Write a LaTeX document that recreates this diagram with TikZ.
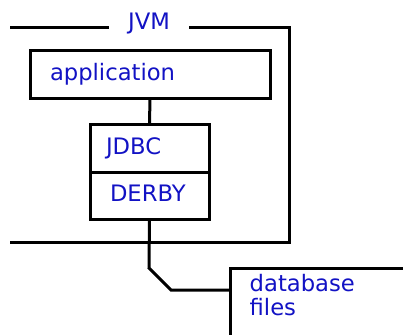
\documentclass[tikz,border=0pt]{standalone}
\usepackage{fontspec}
\setmainfont{DejaVu Sans}
\definecolor{textblue}{RGB}{18,18,196}
\tikzset{
    frame/.style={line width=2.25pt},
    box/.style={draw, line width=2.25pt, outer sep=0pt, inner ysep=0pt, align=left},
    lbl/.style={text=textblue, font=\fontsize{17}{18}\selectfont},
}
\begin{document}
\begin{tikzpicture}[x=0.75pt, y=-0.75pt]
    \useasboundingbox (0,0) rectangle (403,335);

    % JVM frame, open on the left
    \draw[frame] (10,28) -- (289,28) -- (289,242) -- (10,242);
    \node[lbl, fill=white, inner xsep=14pt, inner ysep=2pt] (jvm) at (149,24) {JVM};

    % application
    \node[box, lbl, minimum width=180pt, minimum height=35.25pt, inner xsep=15pt, text width=150pt] (app) at (150,74.5) {application};

    % JDBC / DERBY stack
    \node[box, lbl, minimum width=89.25pt, minimum height=36pt, inner xsep=12pt, text width=65.25pt] (jdbc) at (149.5,148) {\raisebox{3pt}{JDBC}};
    \node[box, lbl, minimum width=89.25pt, minimum height=35.25pt, inner xsep=15pt, text width=59.25pt, anchor=north] (derby) at (jdbc.south) {\raisebox{3pt}{DERBY}};

    \draw[frame] (app.south) -- (jdbc.north);

    % database files, only top and left edges
    \draw[frame] (230,345) -- (230,268) -- (410,268);
    \coordinate (dbin) at (230,290);
    \node[lbl, anchor=north west, align=left] (db) at (245,270) {database\\files};

    \draw[frame] (derby.south) -- (149,268) -- (171,290) -- (dbin);
\end{tikzpicture}
\end{document}
